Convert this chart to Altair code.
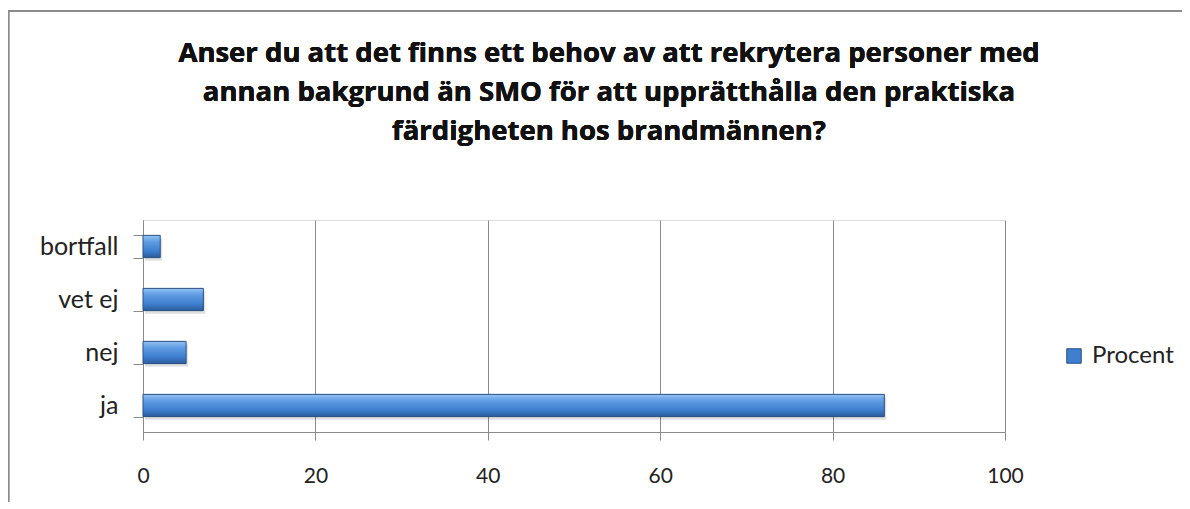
import altair as alt
import pandas as pd

categories = ["ja", "nej", "vet ej", "bortfall"]
values = [86, 5, 7, 2]
series_name = "Procent"
x_ticks = [0, 20, 40, 60, 80, 100]
title_lines = [
    "Anser du att det finns ett behov av att rekrytera personer med",
    "annan bakgrund än SMO för att upprätthålla den praktiska",
    "färdigheten hos brandmännen?",
]

df = pd.DataFrame({"kategori": categories, "värde": values, "serie": [series_name] * len(categories)})
order = ["bortfall", "vet ej", "nej", "ja"]

font = "Lato"
title_font = "Open Sans"

grad = alt.Gradient(
    gradient="linear",
    stops=[
        alt.GradientStop(color="#92c3f4", offset=0),
        alt.GradientStop(color="#5e9be2", offset=0.3),
        alt.GradientStop(color="#3f7fcf", offset=0.7),
        alt.GradientStop(color="#2a5b9c", offset=1),
    ],
    x1=0, x2=0, y1=0, y2=1,
)

x_enc = alt.X(
    "värde:Q",
    scale=alt.Scale(domain=[0, 100], nice=False),
    axis=alt.Axis(
        values=x_ticks, title=None, grid=True, gridColor="#8a8a8a", gridWidth=1,
        domainColor="#8a8a8a", tickColor="#8a8a8a", tickSize=8, labelPadding=25,
        labelFlush=False, labelFont=font, labelFontSize=21, labelColor="#222222",
    ),
)
y_enc = alt.Y(
    "kategori:N",
    sort=order,
    scale=alt.Scale(paddingInner=0.58, paddingOuter=0.29),
    axis=alt.Axis(
        title=None, domainColor="#8a8a8a", tickColor="#8a8a8a", tickSize=10,
        tickBand="extent", labelPadding=15, labelFont=font, labelFontSize=25,
        labelColor="#222222",
    ),
)

shadow = alt.Chart(df).mark_bar(color="#000000", opacity=0.12, xOffset=2, yOffset=3).encode(
    x=x_enc, y=y_enc
)

bars = alt.Chart(df).mark_bar(fill=grad, stroke="#2a4f80", strokeWidth=1).encode(
    x=x_enc,
    y=y_enc,
    color=alt.Color(
        "serie:N",
        scale=alt.Scale(range=["#3f7fcf"]),
        legend=alt.Legend(
            title=None, orient="none", legendX=919, legendY=124,
            symbolType="square", symbolSize=210, symbolStrokeColor="#2a4f80",
            symbolStrokeWidth=1, labelFont=font, labelFontSize=24, labelColor="#222222",
            labelOffset=6,
        ),
    ),
)

frame = alt.Chart(df).mark_rect(fill=None, stroke="#8a8a8a", strokeWidth=1.5, clip=False).encode(
    x=alt.value(-134.5), x2=alt.value(1200), y=alt.value(-209), y2=alt.value(400)
)

title_layers = [
    alt.Chart(df).mark_text(
        text=line, font=title_font, fontSize=27.5, fontWeight="bold", color="#111111",
        align="center", baseline="alphabetic",
    ).encode(x=alt.value(466), y=alt.value(-158 + 39 * i))
    for i, line in enumerate(title_lines)
]

chart = alt.layer(frame, shadow, bars, *title_layers).properties(
    width=862,
    height=212,
    autosize=alt.AutoSizeParams(type="none"),
    padding={"left": 135, "top": 212, "right": 177, "bottom": 70},
).configure_view(stroke=None).configure(background="white")

chart.save("out.html", embed_options={"renderer": "svg", "actions": False})
